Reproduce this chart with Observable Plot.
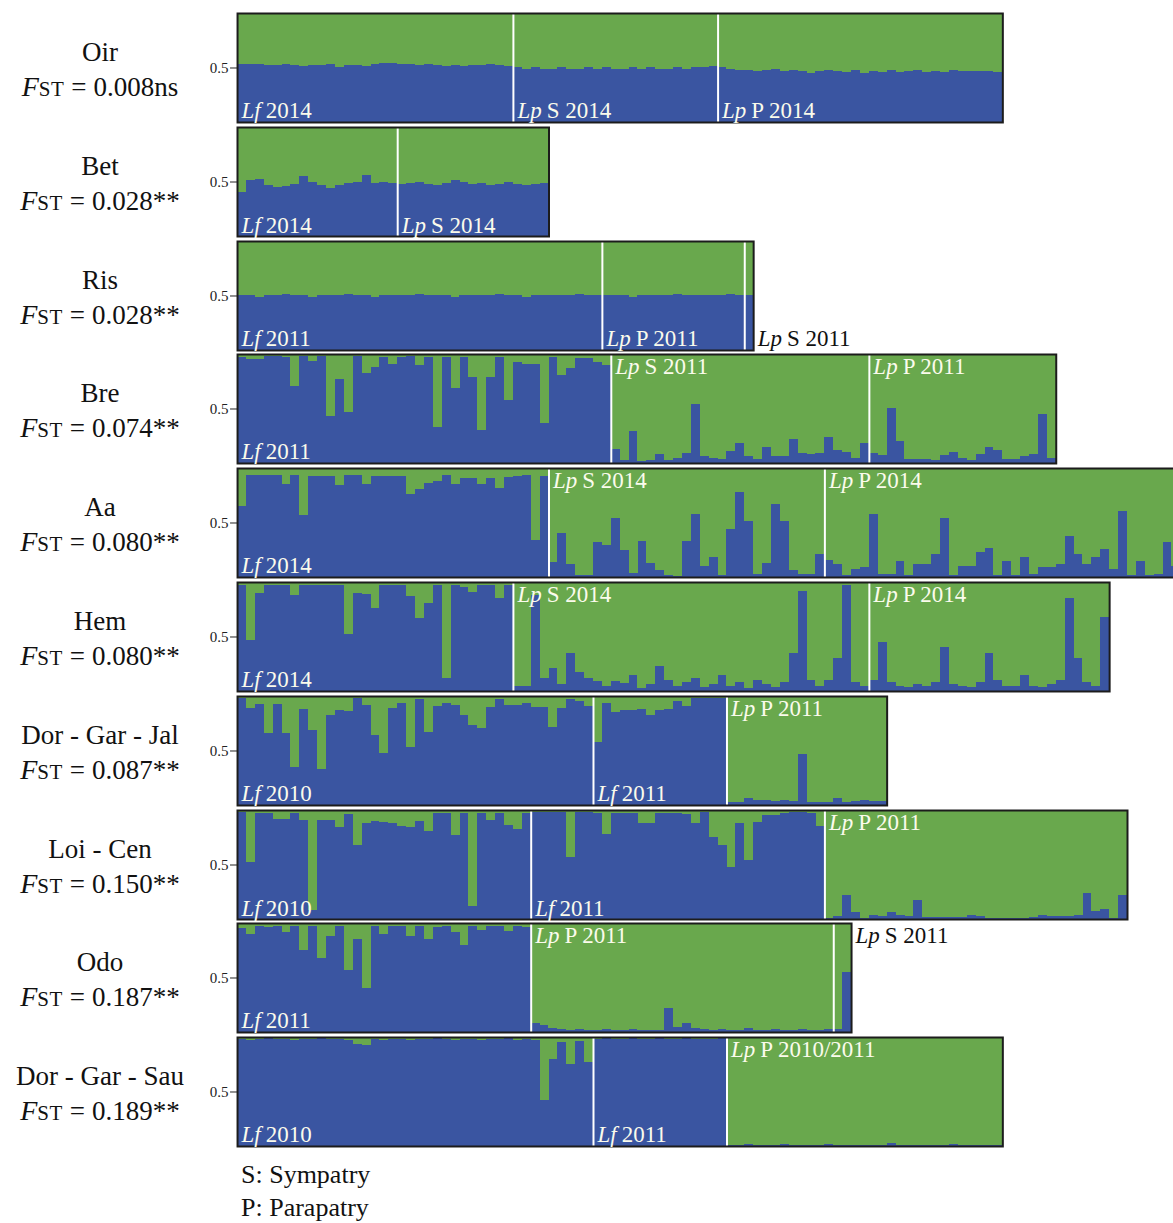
<!DOCTYPE html>
<html><head><meta charset="utf-8">
<script src="https://cdn.jsdelivr.net/npm/d3@7"></script>
<script src="https://cdn.jsdelivr.net/npm/@observablehq/plot@0.6"></script>
<style>
html,body{margin:0;padding:0;background:#fff;overflow:hidden;}
#root{position:relative;width:1173px;height:1223px;font-family:'Liberation Serif','Times New Roman',serif;color:#111;}
.nm{position:absolute;left:0;width:200px;text-align:center;font-size:27px;line-height:30px;height:30px;white-space:nowrap;}
.note{position:absolute;left:241px;font-size:26px;line-height:30px;white-space:nowrap;}
.panel{position:absolute;left:200px;}
</style></head><body><div id="root"></div><script>
// ---------- data ----------
const populations = ["Oir","Bet","Ris","Bre","Aa","Hem","Dor - Gar - Jal","Loi - Cen","Odo","Dor - Gar - Sau"];
const fstValues = ["0.008ns","0.028**","0.028**","0.074**","0.080**","0.080**","0.087**","0.150**","0.187**","0.189**"];
const groupSpecies = [
  ["Lf","Lp","Lp"],["Lf","Lp"],["Lf","Lp","Lp"],["Lf","Lp","Lp"],["Lf","Lp","Lp"],
  ["Lf","Lp","Lp"],["Lf","Lf","Lp"],["Lf","Lf","Lp"],["Lf","Lp","Lp"],["Lf","Lf","Lp"]];
const groupNames = [
  ["2014","S 2014","P 2014"],["2014","S 2014"],["2011","P 2011","S 2011"],["2011","S 2011","P 2011"],
  ["2014","S 2014","P 2014"],["2014","S 2014","P 2014"],["2010","2011","P 2011"],["2010","2011","P 2011"],
  ["2011","P 2011","S 2011"],["2010","2011","P 2010/2011"]];
const notes = ["S: Sympatry","P: Parapatry"];

// proportion of membership in the blue cluster, one value per individual
const oirLf2014 = [0.53,0.53,0.53,0.52,0.52,0.53,0.52,0.51,0.52,0.52,0.53,0.50,0.52,0.52,0.51,0.53,0.54,0.54,0.53,0.53,0.52,0.53,0.52,0.51,0.52,0.51,0.52,0.52,0.53,0.52,0.51];
const oirLpS2014 = [0.50,0.49,0.50,0.49,0.49,0.50,0.49,0.49,0.50,0.49,0.50,0.49,0.49,0.50,0.49,0.50,0.49,0.49,0.50,0.49,0.50,0.50,0.51];
const oirLpP2014 = [0.50,0.49,0.48,0.48,0.47,0.48,0.49,0.47,0.48,0.47,0.45,0.47,0.48,0.47,0.46,0.48,0.45,0.47,0.46,0.48,0.46,0.47,0.48,0.46,0.47,0.46,0.48,0.47,0.47,0.47,0.47,0.46];
const betLf2014 = [0.40,0.51,0.52,0.47,0.45,0.46,0.48,0.55,0.50,0.47,0.44,0.47,0.49,0.50,0.56,0.49,0.50,0.49];
const betLpS2014 = [0.48,0.49,0.50,0.48,0.47,0.49,0.51,0.50,0.48,0.49,0.47,0.48,0.50,0.48,0.47,0.48,0.49];
const risLf2011 = [0.50,0.50,0.49,0.50,0.50,0.51,0.50,0.50,0.49,0.50,0.50,0.50,0.51,0.50,0.50,0.49,0.50,0.50,0.50,0.50,0.51,0.50,0.50,0.50,0.49,0.50,0.50,0.50,0.50,0.51,0.50,0.50,0.49,0.50,0.50,0.50,0.50,0.50,0.51,0.50,0.50];
const risLpP2011 = [0.50,0.50,0.50,0.49,0.50,0.50,0.50,0.50,0.51,0.50,0.50,0.50,0.50,0.50,0.51,0.50];
const risLpS2011 = [0.50];
const breLf2011 = [0.97,0.95,0.95,0.98,0.98,0.97,0.71,0.98,0.94,0.98,0.43,0.77,0.47,0.98,0.83,0.88,0.97,0.91,0.97,0.98,0.90,0.97,0.33,0.97,0.69,0.97,0.79,0.30,0.79,0.97,0.58,0.93,0.91,0.91,0.37,0.97,0.81,0.87,0.96,0.96,0.93,0.90];
const breLpS2011 = [0.13,0.03,0.29,0.02,0.03,0.08,0.03,0.05,0.09,0.54,0.06,0.05,0.04,0.11,0.18,0.06,0.04,0.15,0.06,0.06,0.22,0.09,0.08,0.09,0.24,0.12,0.10,0.05,0.18];
const breLpP2011 = [0.09,0.07,0.50,0.20,0.04,0.04,0.04,0.03,0.07,0.10,0.05,0.03,0.08,0.15,0.12,0.04,0.04,0.06,0.08,0.45,0.05];
const aaLf2014 = [0.65,0.94,0.94,0.94,0.94,0.85,0.94,0.57,0.93,0.93,0.93,0.84,0.94,0.94,0.85,0.93,0.93,0.93,0.93,0.76,0.81,0.86,0.88,0.94,0.85,0.91,0.91,0.85,0.91,0.82,0.92,0.93,0.94,0.34,0.93];
const aaLpS2014 = [0.14,0.40,0.12,0.02,0.02,0.32,0.29,0.54,0.25,0.04,0.33,0.13,0.06,0.02,0.01,0.33,0.58,0.10,0.18,0.02,0.44,0.78,0.51,0.03,0.13,0.67,0.51,0.06,0.03,0.03,0.21];
const aaLpP2014 = [0.16,0.12,0.02,0.07,0.09,0.58,0.03,0.03,0.15,0.02,0.12,0.12,0.21,0.54,0.02,0.10,0.10,0.23,0.27,0.02,0.15,0.02,0.18,0.03,0.09,0.09,0.12,0.38,0.21,0.12,0.18,0.26,0.07,0.61,0.02,0.15,0.02,0.03,0.32,0.10];
const hemLf2014 = [0.97,0.47,0.90,0.97,0.97,0.97,0.88,0.97,0.97,0.97,0.97,0.97,0.52,0.90,0.89,0.76,0.97,0.97,0.97,0.87,0.67,0.81,0.97,0.12,0.97,0.95,0.91,0.97,0.97,0.85,0.97];
const hemLpS2014 = [0.05,0.05,0.88,0.12,0.21,0.06,0.35,0.17,0.12,0.09,0.05,0.09,0.07,0.15,0.03,0.06,0.23,0.10,0.05,0.08,0.12,0.04,0.06,0.15,0.05,0.08,0.03,0.10,0.06,0.04,0.08,0.35,0.92,0.10,0.05,0.10,0.30,0.97,0.08,0.05];
const hemLpP2014 = [0.10,0.45,0.08,0.05,0.04,0.06,0.05,0.08,0.40,0.06,0.05,0.04,0.08,0.35,0.10,0.05,0.05,0.15,0.05,0.04,0.06,0.10,0.85,0.30,0.08,0.05,0.68];
const dgjLf2010 = [0.98,0.89,0.93,0.66,0.93,0.66,0.35,0.88,0.69,0.33,0.83,0.87,0.86,0.98,0.92,0.64,0.48,0.89,0.94,0.53,0.97,0.67,0.91,0.94,0.92,0.83,0.73,0.71,0.90,0.97,0.92,0.92,0.94,0.90,0.90,0.72,0.89,0.97,0.95,0.91];
const dgjLf2011 = [0.58,0.94,0.85,0.87,0.87,0.88,0.83,0.87,0.88,0.95,0.91,0.98,0.98,0.98,0.98];
const dgjLpP2011 = [0.03,0.03,0.06,0.05,0.05,0.04,0.05,0.04,0.47,0.03,0.03,0.03,0.06,0.03,0.04,0.05,0.04,0.04];
const loiLf2010 = [0.98,0.52,0.97,0.97,0.92,0.92,0.97,0.91,0.08,0.91,0.91,0.84,0.96,0.68,0.88,0.90,0.89,0.88,0.85,0.84,0.90,0.81,0.97,0.97,0.77,0.97,0.12,0.97,0.91,0.97,0.86,0.83,0.97];
const loiLf2011 = [0.98,0.98,0.98,0.98,0.57,0.98,0.98,0.97,0.78,0.97,0.97,0.97,0.88,0.88,0.97,0.97,0.97,0.96,0.88,0.98,0.75,0.68,0.48,0.88,0.54,0.89,0.95,0.95,0.97,0.98,0.98,0.97,0.85];
const loiLpP2011 = [0.01,0.03,0.22,0.06,0.01,0.04,0.03,0.06,0.04,0.03,0.17,0.02,0.02,0.02,0.02,0.02,0.04,0.03,0.01,0.01,0.01,0.01,0.01,0.02,0.04,0.03,0.03,0.03,0.04,0.24,0.07,0.09,0.01,0.22];
const odoLf2011 = [0.95,0.90,0.97,0.96,0.97,0.92,0.97,0.75,0.97,0.68,0.88,0.97,0.57,0.85,0.40,0.97,0.90,0.97,0.97,0.88,0.97,0.85,0.96,0.97,0.92,0.80,0.97,0.94,0.97,0.97,0.93,0.97,0.96];
const odoLpP2011 = [0.08,0.06,0.04,0.03,0.02,0.03,0.02,0.02,0.03,0.02,0.02,0.03,0.02,0.02,0.02,0.22,0.05,0.08,0.04,0.03,0.02,0.03,0.02,0.02,0.04,0.02,0.02,0.03,0.02,0.02,0.03,0.02,0.02,0.03];
const odoLpS2011 = [0.03,0.55];
const dgsLf2010 = [0.98,0.97,0.98,0.99,0.98,0.98,0.97,0.98,0.98,0.99,0.98,0.98,0.97,0.94,0.93,0.98,0.97,0.98,0.98,0.97,0.98,0.98,0.99,0.98,0.97,0.98,0.98,0.97,0.98,0.98,0.99,0.97,0.98,0.97,0.42,0.80,0.95,0.75,0.96,0.77];
const dgsLf2011 = [0.98,0.99,0.98,0.98,0.99,0.98,0.98,0.99,0.98,0.98,0.99,0.98,0.98,0.98,0.99];
const dgsLpP20102011 = [0.01,0.01,0.02,0.01,0.01,0.01,0.02,0.01,0.01,0.01,0.01,0.02,0.01,0.01,0.01,0.01,0.01,0.01,0.03,0.01,0.01,0.01,0.01,0.01,0.01,0.02,0.01,0.01,0.01,0.01,0.01];

const groupValues = [
  [oirLf2014, oirLpS2014, oirLpP2014],
  [betLf2014, betLpS2014],
  [risLf2011, risLpP2011, risLpS2011],
  [breLf2011, breLpS2011, breLpP2011],
  [aaLf2014, aaLpS2014, aaLpP2014],
  [hemLf2014, hemLpS2014, hemLpP2014],
  [dgjLf2010, dgjLf2011, dgjLpP2011],
  [loiLf2010, loiLf2011, loiLpP2011],
  [odoLf2011, odoLpP2011, odoLpS2011],
  [dgsLf2010, dgsLf2011, dgsLpP20102011]];

// ---------- drawing ----------
const BLUE = "#3a55a1", GREEN = "#69a84d", LABEL = "#fbfbec";
const FONT = "'Liberation Serif','Times New Roman',serif";
const BW = 8.9, PITCH = 113.8, TOP0 = 13;
const root = document.getElementById("root");
const ctx = document.createElement("canvas").getContext("2d");
ctx.font = "italic 23px 'Liberation Serif'";
const spW = {Lf: ctx.measureText("Lf").width, Lp: ctx.measureText("Lp").width};
const hasAxisMark = typeof Plot.axisY === "function";

function labelMarks(subset, lineAnchor, dy, fill) {
  return ["Lf","Lp"].flatMap(sp => {
    const s = subset.filter(d => d.species === sp);
    if (!s.length) return [];
    return [
      Plot.text(s, {x: "x", y: "y", text: "species", fontStyle: "italic", textAnchor: "start", lineAnchor, dx: 4, dy, fill, fontSize: 23, fontFamily: FONT}),
      Plot.text(s, {x: "x", y: "y", text: "rest", textAnchor: "start", lineAnchor, dx: 4 + spW[sp] + 5, dy, fill, fontSize: 23, fontFamily: FONT})
    ];
  });
}

populations.forEach((pop, p) => {
  const frameTop = TOP0 + PITCH * p;
  let start = 0;
  const bars = [], labels = [], seps = [];
  groupValues[p].forEach((vals, g) => {
    vals.forEach((q, k) => bars.push({x1: start + k, x2: start + k + 1, q}));
    const outside = vals.length <= 2;
    const top = d3.mean(vals) < 0.35;
    labels.push({x: outside ? start + vals.length : start, y: top ? 1 : 0, top, outside,
                 species: groupSpecies[p][g], rest: groupNames[p][g]});
    start += vals.length;
    if (g < groupValues[p].length - 1) seps.push(start);
  });
  const N = start;
  const inBottom = labels.filter(d => !d.outside && !d.top);
  const inTop = labels.filter(d => !d.outside && d.top);
  const outBottom = labels.filter(d => d.outside && !d.top);
  const outTop = labels.filter(d => d.outside && d.top);
  const axisMarks = hasAxisMark
    ? [Plot.axisY([0.5], {tickFormat: ".1f", tickSize: 7, tickPadding: 2, fontSize: 15, fontFamily: FONT, label: null, stroke: "#222", fill: "#222"})]
    : [];
  const chart = Plot.plot({
    width: 37 + N * BW + 2, height: 113,
    marginLeft: 37, marginRight: 2, marginTop: 2, marginBottom: 2,
    style: {fontFamily: FONT, fontSize: "15px", overflow: "visible", background: "transparent", color: "#222"},
    x: {domain: [0, N], axis: null},
    y: hasAxisMark
      ? {domain: [0, 1]}
      : {domain: [0, 1], ticks: [0.5], tickFormat: ".1f", tickSize: 7, tickPadding: 2, label: null},
    marks: [
      Plot.frame({fill: GREEN}),
      Plot.rect(bars, {x1: "x1", x2: "x2", y1: 0, y2: "q", fill: BLUE, shapeRendering: "crispEdges"}),
      Plot.ruleX(seps, {stroke: "white", strokeWidth: 2}),
      Plot.frame({stroke: "#1c1c1c", strokeWidth: 2}),
      ...axisMarks,
      ...labelMarks(inBottom, "bottom", -4, LABEL),
      ...labelMarks(inTop, "top", 3, LABEL),
      ...labelMarks(outBottom, "bottom", -4, "#111"),
      ...labelMarks(outTop, "top", 3, "#111")
    ]
  });
  chart.classList.add("panel");
  chart.style.top = (frameTop - 2) + "px";
  chart.style.position = "absolute";
  chart.style.left = "200px";
  root.appendChild(chart);

  const nm = document.createElement("div");
  nm.className = "nm";
  nm.style.top = (frameTop + 24) + "px";
  nm.textContent = pop;
  root.appendChild(nm);
  const fs = document.createElement("div");
  fs.className = "nm";
  fs.style.top = (frameTop + 59) + "px";
  fs.innerHTML = `<i style="font-size:28px">F</i><span style="font-size:21px;letter-spacing:0.5px">ST</span><span style="margin:0 7px">=</span>${fstValues[p]}`;
  root.appendChild(fs);
});

notes.forEach((t, i) => {
  const d = document.createElement("div");
  d.className = "note";
  d.style.top = (1160 + 33 * i) + "px";
  d.textContent = t;
  root.appendChild(d);
});
</script></body></html>
